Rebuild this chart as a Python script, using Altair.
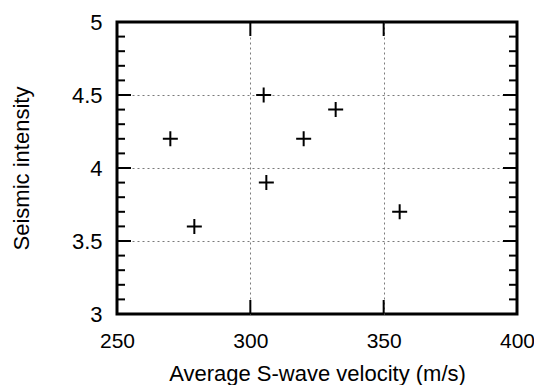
import altair as alt
import pandas as pd

# data
velocity = [270, 279, 305, 306, 320, 332, 356]
intensity = [4.2, 3.6, 4.5, 3.9, 4.2, 4.4, 3.7]

# axis tick values
x_labels = [250, 300, 350, 400]
y_labels = [3, 3.5, 4, 4.5, 5]
x_major = [300, 350]
y_major = [3.5, 4, 4.5]
y_minor = [3.1, 3.2, 3.3, 3.4, 3.6, 3.7, 3.8, 3.9,
           4.1, 4.2, 4.3, 4.4, 4.6, 4.7, 4.8, 4.9]

df = pd.DataFrame({"v": velocity, "s": intensity})
xmaj = pd.DataFrame({"t": x_major})
ymaj = pd.DataFrame({"t": y_major})
ymin = pd.DataFrame({"t": y_minor})

FONT = "Liberation Sans"
xs = alt.Scale(domain=[250, 400], nice=False, zero=False)
ys = alt.Scale(domain=[3, 5], nice=False, zero=False)

MAJ, MIN = 14, 8


def grid_axis(orient, values):
    return alt.Axis(orient=orient, values=values, grid=True, gridColor="#7a7a7a",
                    gridDash=[2, 3], gridWidth=1, ticks=False, labels=False,
                    domain=False, title=None)


label_x = alt.Axis(orient="bottom", values=x_labels, labelExpr="'' + datum.value",
                   ticks=False, tickSize=0, domain=False, grid=False, labelFont=FONT,
                   labelFontSize=21, labelColor="black", labelPadding=16,
                   labelFlush=False, labelOverlap=False,
                   title="Average S-wave velocity (m/s)", titleFont=FONT,
                   titleFontSize=22, titleFontWeight="normal", titleColor="black",
                   titlePadding=12)
label_y = alt.Axis(orient="left", values=y_labels, labelExpr="'' + datum.value",
                   ticks=False, tickSize=0, domain=False, grid=False, labelFont=FONT,
                   labelFontSize=22, labelColor="black", labelPadding=15,
                   labelFlush=False, labelOverlap=False,
                   title="Seismic intensity", titleFont=FONT,
                   titleFontSize=22, titleFontWeight="normal", titleColor="black",
                   titlePadding=38)

grid = alt.Chart(df).mark_point(opacity=0).encode(
    x=alt.X("v:Q", scale=xs, axis=grid_axis("bottom", x_major)),
    y=alt.Y("s:Q", scale=ys, axis=grid_axis("left", y_major)),
)

rule = dict(color="black", strokeWidth=2)
tick_bottom = alt.Chart(xmaj).mark_rule(**rule).encode(
    x=alt.X("t:Q", scale=xs, axis=None),
    y=alt.value("height"), y2=alt.value({"expr": f"height - {MAJ}"}),
)
tick_top = alt.Chart(xmaj).mark_rule(**rule).encode(
    x=alt.X("t:Q", scale=xs, axis=None),
    y=alt.value(0), y2=alt.value(MAJ),
)
tick_left = alt.Chart(ymaj).mark_rule(**rule).encode(
    y=alt.Y("t:Q", scale=ys, axis=None),
    x=alt.value(0), x2=alt.value(MAJ),
)
tick_right = alt.Chart(ymaj).mark_rule(**rule).encode(
    y=alt.Y("t:Q", scale=ys, axis=None),
    x=alt.value("width"), x2=alt.value({"expr": f"width - {MAJ}"}),
)
minor_left = alt.Chart(ymin).mark_rule(**rule).encode(
    y=alt.Y("t:Q", scale=ys, axis=None),
    x=alt.value(0), x2=alt.value(MIN),
)
minor_right = alt.Chart(ymin).mark_rule(**rule).encode(
    y=alt.Y("t:Q", scale=ys, axis=None),
    x=alt.value("width"), x2=alt.value({"expr": f"width - {MIN}"}),
)

points = alt.Chart(df).mark_point(shape="M-1,0L1,0M0,-1L0,1", size=225, filled=False,
                                  color="black", strokeWidth=2, opacity=1).encode(
    x=alt.X("v:Q", scale=xs, axis=label_x),
    y=alt.Y("s:Q", scale=ys, axis=label_y),
)

chart = alt.layer(grid, tick_bottom, tick_top, tick_left, tick_right,
                  minor_left, minor_right, points).resolve_axis(
    x="independent", y="independent"
).properties(
    width=400, height=292,
    autosize=alt.AutoSizeParams(type="none"),
    padding={"left": 109, "top": 14, "right": 17, "bottom": 71},
).configure_view(stroke="black", strokeWidth=3)

chart.save("out.html", embed_options={"renderer": "svg", "actions": False})
